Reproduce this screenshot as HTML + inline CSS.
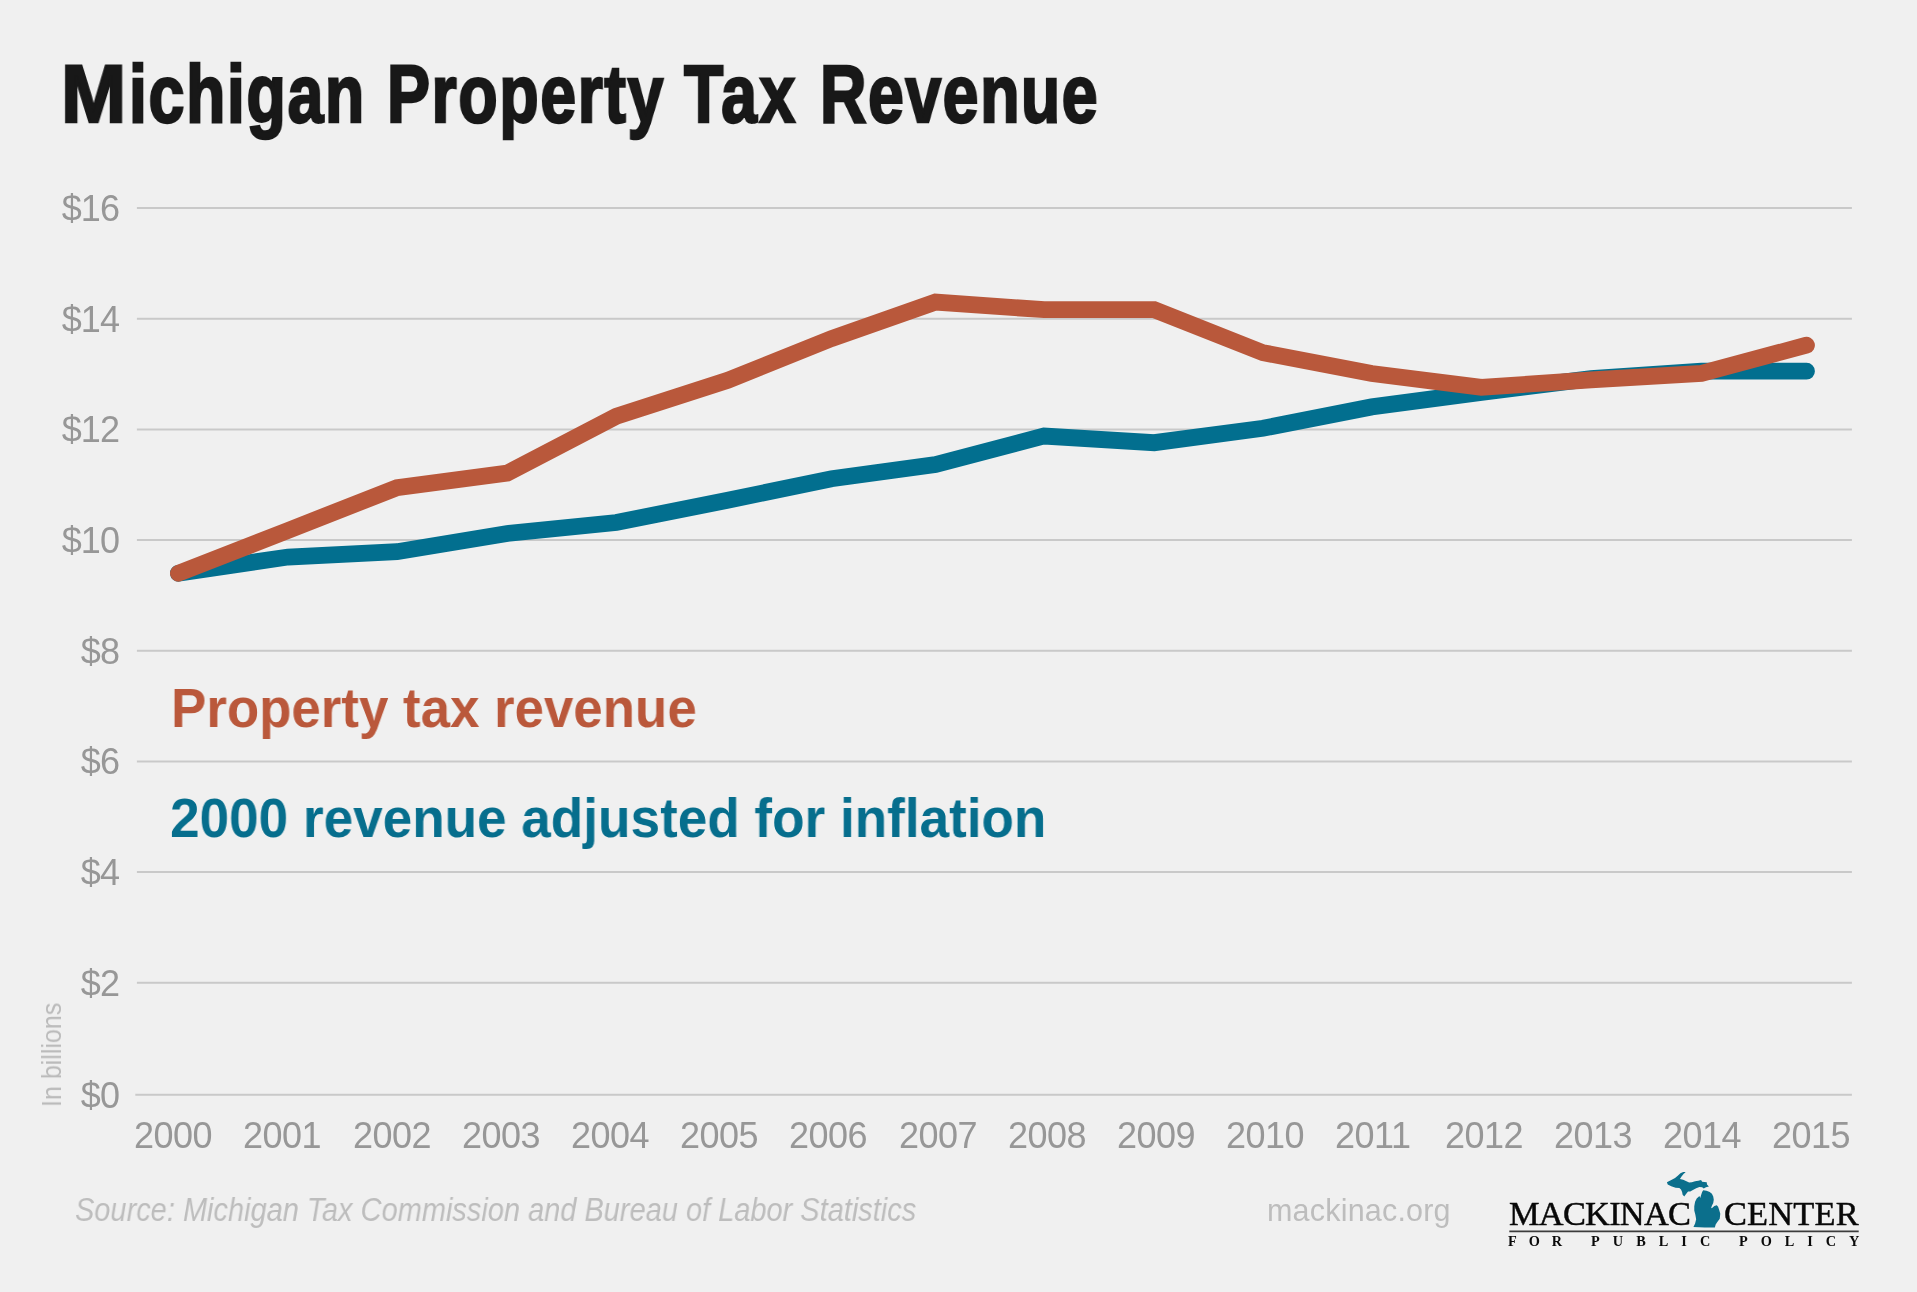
<!DOCTYPE html>
<html><head><meta charset="utf-8"><title>Michigan Property Tax Revenue</title>
<style>
html,body{margin:0;padding:0}
body{width:1917px;height:1292px;background:#f0f0f0;position:relative;overflow:hidden;font-family:"Liberation Sans",sans-serif}
div{position:absolute;white-space:nowrap;line-height:1;will-change:transform}
.tw{top:52.9px;font-size:81.5px;font-weight:bold;color:#181818;-webkit-text-stroke:2.5px #181818;transform-origin:0 0}
.yl{left:0;width:119.3px;text-align:right;font-size:36px;color:#979797;letter-spacing:-0.8px;height:42px;line-height:42px}
.xl{top:1114.6px;font-size:36px;color:#979797;letter-spacing:-0.5px;height:42px;line-height:42px}
#inb{left:37.5px;top:1107.3px;font-size:27.8px;color:#bbbbbb;transform-origin:0 0;transform:rotate(-90deg) scaleX(0.9)}
#leg1{left:170.5px;top:680.8px;font-size:55.3px;font-weight:bold;color:#ba583b;transform-origin:0 0;transform:scaleX(0.9556)}
#leg2{left:169.5px;top:791.2px;font-size:55.3px;font-weight:bold;color:#066e8d;transform-origin:0 0;transform:scaleX(0.9603)}
#src{left:75px;top:1193.9px;font-size:32.4px;font-style:italic;color:#bdbdbd;transform-origin:0 0;transform:scaleX(0.8945)}
#site{left:1266.5px;top:1195px;font-size:30.5px;color:#bdbdbd;letter-spacing:0.2px}
#mk{font-family:"Liberation Serif",serif;left:1508.6px;top:1196.3px;font-size:34.4px;color:#080808;letter-spacing:-0.757px;-webkit-text-stroke:0.45px #080808}
#ct{font-family:"Liberation Serif",serif;left:1723.6px;top:1196.3px;font-size:34.4px;color:#080808;letter-spacing:0.18px;-webkit-text-stroke:0.45px #080808}
.fp{font-family:"Liberation Serif",serif;top:1234.2px;font-size:14.3px;font-weight:bold;color:#0a0a0a}
svg{position:absolute;left:0;top:0}
</style></head><body>
<svg width="1917" height="1292" viewBox="0 0 1917 1292">
<g stroke="#c9c9c9" stroke-width="2"><line x1="135.3" y1="1094.80" x2="1851.9" y2="1094.80"/><line x1="136.9" y1="982.80" x2="1851.9" y2="982.80"/><line x1="136.9" y1="871.90" x2="1851.9" y2="871.90"/><line x1="136.9" y1="761.40" x2="1851.9" y2="761.40"/><line x1="136.9" y1="650.80" x2="1851.9" y2="650.80"/><line x1="136.9" y1="539.90" x2="1851.9" y2="539.90"/><line x1="136.9" y1="429.40" x2="1851.9" y2="429.40"/><line x1="136.9" y1="318.85" x2="1851.9" y2="318.85"/><line x1="136.9" y1="208.00" x2="1851.9" y2="208.00"/></g>
<polyline points="178.4,573.3 288.0,557.0 397.0,551.7 507.2,533.5 616.3,522.5 727.7,500.3 831.6,478.7 935.5,464.5 1044.1,436.0 1154.2,442.7 1263.0,428.3 1371.7,406.9 1481.3,392.4 1591.0,378.6 1701.5,371.2 1806.5,371.2" fill="none" stroke="#026f8f" stroke-width="16.8" stroke-linecap="round" stroke-linejoin="miter"/>
<polyline points="178.4,573.3 288.0,530.5 397.0,487.6 507.2,473.2 616.3,416.2 727.7,380.3 831.6,338.5 935.5,302.1 1044.1,309.7 1154.2,309.7 1263.0,352.7 1371.7,373.5 1481.3,387.4 1591.0,379.8 1701.5,373.3 1806.5,345.2" fill="none" stroke="#b9583b" stroke-width="16.8" stroke-linecap="round" stroke-linejoin="miter"/>
<path d="M1685.34 1172.04 L1683.17 1172.04 L1680.46 1173.13 L1677.75 1175.83 L1675.04 1178.00 L1671.79 1179.63 L1666.92 1182.33 L1667.73 1184.50 L1671.25 1186.13 L1675.59 1187.75 L1679.38 1188.02 L1681.00 1189.38 L1682.09 1192.09 L1682.63 1194.79 L1684.25 1196.42 L1685.88 1194.25 L1688.04 1191.54 L1690.21 1191.54 L1692.92 1189.92 L1696.17 1188.29 L1699.42 1186.94 L1702.13 1187.21 L1703.75 1188.56 L1705.92 1187.21 L1708.90 1186.40 L1707.00 1184.50 L1706.73 1182.33 L1702.13 1181.79 L1701.05 1179.90 L1698.34 1180.71 L1695.09 1181.25 L1691.84 1182.33 L1689.13 1182.61 L1686.42 1181.25 L1683.17 1179.63 L1679.92 1179.08 L1681.54 1176.38 L1683.71 1173.67 L1685.34 1172.58Z M1703.21 1190.19 L1706.46 1190.73 L1709.71 1192.09 L1711.88 1193.71 L1713.23 1196.42 L1713.78 1199.67 L1713.23 1202.92 L1711.88 1205.63 L1711.07 1208.34 L1712.42 1207.80 L1714.32 1205.90 L1716.76 1205.36 L1718.11 1206.71 L1719.19 1209.96 L1720.28 1213.75 L1719.73 1218.63 L1717.30 1221.88 L1715.67 1224.59 L1714.86 1227.57 L1704.84 1227.57 L1693.46 1227.03 L1695.09 1223.50 L1696.17 1219.17 L1695.36 1214.84 L1694.27 1210.50 L1694.27 1206.17 L1695.09 1201.84 L1696.71 1198.59 L1699.42 1195.88 L1700.23 1198.04 L1701.05 1195.34 L1702.13 1192.09Z" fill="#0b6f8c"/>
<line x1="1509.3" y1="1231.4" x2="1858.7" y2="1231.4" stroke="#3c3c3c" stroke-width="1.6"/>
</svg>
<div class="tw" style="left:61.06px;transform:scaleX(0.96)">M</div><div class="tw" style="left:129.04px;transform:scaleX(0.79);letter-spacing:2.1px">ichigan</div><div class="tw" style="left:386.74px;transform:scaleX(0.79);letter-spacing:2.1px">Property</div><div class="tw" style="left:683.9px;transform:scaleX(0.79);letter-spacing:3.27px">Tax</div><div class="tw" style="left:819.94px;transform:scaleX(0.79);letter-spacing:1.95px">Revenue</div>
<div class="yl" style="top:1074.7px">$0</div><div class="yl" style="top:962.7px">$2</div><div class="yl" style="top:851.8px">$4</div><div class="yl" style="top:741.3px">$6</div><div class="yl" style="top:630.7px">$8</div><div class="yl" style="top:519.8px">$10</div><div class="yl" style="top:409.3px">$12</div><div class="yl" style="top:298.8px">$14</div><div class="yl" style="top:187.9px">$16</div>
<div class="xl" id="x0" style="left:134.2px">2000</div><div class="xl" id="x1" style="left:243.4px">2001</div><div class="xl" id="x2" style="left:352.6px">2002</div><div class="xl" id="x3" style="left:461.8px">2003</div><div class="xl" id="x4" style="left:571.0px">2004</div><div class="xl" id="x5" style="left:680.2px">2005</div><div class="xl" id="x6" style="left:789.4px">2006</div><div class="xl" id="x7" style="left:898.6px">2007</div><div class="xl" id="x8" style="left:1007.8px">2008</div><div class="xl" id="x9" style="left:1117.0px">2009</div><div class="xl" id="x10" style="left:1226.2px">2010</div><div class="xl" id="x11" style="left:1335.4px">2011</div><div class="xl" id="x12" style="left:1444.6px">2012</div><div class="xl" id="x13" style="left:1553.8px">2013</div><div class="xl" id="x14" style="left:1663.0px">2014</div><div class="xl" id="x15" style="left:1772.2px">2015</div>
<div id="inb">In billions</div>
<div id="leg1">Property tax revenue</div>
<div id="leg2">2000 revenue adjusted for inflation</div>
<div id="src">Source: Michigan Tax Commission and Bureau of Labor Statistics</div>
<div id="site">mackinac.org</div>
<div id="mk">MACKINAC</div>
<div id="ct">CENTER</div>
<div class="fp" style="left:1508.4px;letter-spacing:11.95px">FOR</div><div class="fp" style="left:1591.1px;letter-spacing:13.04px">PUBLIC</div><div class="fp" style="left:1738.9px;letter-spacing:12.96px">POLICY</div>
</body></html>
